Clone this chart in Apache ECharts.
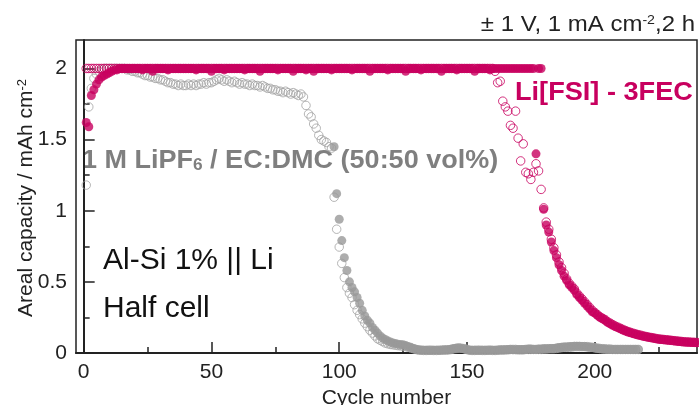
<!DOCTYPE html>
<html>
<head>
<meta charset="utf-8">
<script src="https://cdn.jsdelivr.net/npm/echarts@6/dist/echarts.min.js"></script>
<style>
  html, body { margin: 0; padding: 0; background: #fff; }
  #chart { width: 699px; height: 405px; }
</style>
</head>
<body>
<div id="chart"></div>
<script>
// cycle number of the first value in each list
const magentaStart = 1
const grayHollowStart = 1
const grayFilledStart = 14

// Li[FSI] - 3FEC, filled markers
const magentaFilled = [
  1.62, 1.59, 1.81, 1.85, 1.89, 1.92, 1.94, 1.95, 1.96, 1.97,
  1.98, 1.99, 1.99, 2, 2, 2, 2, 2, 2, 2,
  2, 2, 1.99, 2, 2, 2, 1.98, 2, 2, 2,
  2, 2, 1.99, 2, 2, 2, 2, 2, 2, 2,
  2, 2, 2, 1.99, 2, 2, 2, 2, 2, 1.98,
  2, 2, 2, 2, 1.99, 2, 2, 2, 2, 2,
  2, 2, 1.99, 2, 2, 2, 2, 2, 1.98, 2,
  2, 2, 2, 2, 2, 1.99, 2, 2, 2, 2,
  2, 1.98, 2, 2, 2, 2, 1.99, 2, 2, 1.98,
  2, 2, 2, 2, 2, 2, 1.99, 2, 2, 2,
  2, 2, 2, 2, 1.99, 2, 2, 2, 2, 2,
  2, 1.98, 2, 2, 2, 2, 2, 2, 1.99, 2,
  2, 2, 2, 2, 2, 1.98, 2, 2, 2, 2,
  2, 1.99, 2, 2, 2, 2, 2, 2, 2, 1.98,
  2, 2, 2, 2, 2, 1.99, 2, 2, 2, 2,
  2, 2, 1.98, 2, 2, 2, 2, 2, 1.99, 2,
  2, 2, 2, 2, 2, 2, 2, 2, 2, 2,
  2, 2, 2, 2, 2, 2, 1.4, 2, 2, 1.01,
  0.9, 0.85, 0.78, 0.72, 0.67, 0.62, 0.58, 0.54, 0.51, 0.48,
  0.46, 0.44, 0.41, 0.39, 0.37, 0.35, 0.33, 0.31, 0.29, 0.28,
  0.265, 0.25, 0.24, 0.23, 0.215, 0.205, 0.195, 0.185, 0.178, 0.17,
  0.162, 0.155, 0.148, 0.142, 0.136, 0.131, 0.126, 0.122, 0.118, 0.114,
  0.11, 0.107, 0.104, 0.1, 0.097, 0.095, 0.093, 0.091, 0.089, 0.087,
  0.085, 0.083, 0.081, 0.079, 0.077, 0.076, 0.075, 0.074, 0.073, 0.072
]

// Li[FSI] - 3FEC, open markers
const magentaHollow = [
  2, 2, 2, 2, 2, 2, 2, 2, 2, 2,
  2, 2, 2, 2, 2, 2, 2, 2, 2, 2,
  2, 2, 2, 2, 2, 2, 2, 2, 2, 2,
  2, 2, 2, 2, 2, 2, 2, 2, 2, 2,
  2, 2, 2, 2, 2, 2, 2, 2, 2, 2,
  2, 2, 2, 2, 2, 2, 2, 2, 2, 2,
  2, 2, 2, 2, 2, 2, 2, 2, 2, 2,
  2, 2, 2, 2, 2, 2, 2, 2, 2, 2,
  2, 2, 2, 2, 2, 2, 2, 2, 2, 2,
  2, 2, 2, 2, 2, 2, 2, 2, 2, 2,
  2, 2, 2, 2, 2, 2, 2, 2, 2, 2,
  2, 2, 2, 2, 2, 2, 2, 2, 2, 2,
  2, 2, 2, 2, 2, 2, 2, 2, 2, 2,
  2, 2, 2, 2, 2, 2, 2, 2, 2, 2,
  2, 2, 2, 2, 2, 2, 2, 2, 2, 2,
  2, 2, 2, 2, 2, 2, 2, 2, 2, 2,
  1.98, 1.9, 1.91, 1.77, 1.73, 1.7, 1.6, 1.58, 1.7, 1.51,
  1.35, 1.47, 1.27, 1.26, 1.22, 1.27, 1.33, 1.28, 1.15, 1.02,
  0.92, 0.87, 0.8, 0.74, 0.69, 0.64, 0.6, 0.56, 0.52, 0.49,
  0.47, 0.45, 0.42, 0.4, 0.38, 0.36, 0.34, 0.32, 0.3, 0.285,
  0.27, 0.255, 0.245, 0.235, 0.22, 0.21, 0.2, 0.19, 0.182, 0.174,
  0.166, 0.158, 0.151, 0.145, 0.139, 0.134, 0.129, 0.125, 0.12, 0.116,
  0.112, 0.109, 0.106, 0.102, 0.099, 0.097, 0.095, 0.093, 0.091, 0.089,
  0.087, 0.085, 0.083, 0.081, 0.079, 0.078, 0.077, 0.076, 0.075, 0.074
]

// 1 M LiPF6 / EC:DMC, open markers
const grayHollow = [
  1.18, 1.73, 1.86, 1.93, 1.96, 1.98, 1.99, 2, 2, 2,
  2, 2, 2, 2, 2, 2, 1.99, 1.99, 1.98, 1.98,
  1.97, 1.97, 1.96, 1.95, 1.95, 1.94, 1.94, 1.93, 1.93, 1.92,
  1.92, 1.91, 1.9, 1.9, 1.89, 1.89, 1.88, 1.89, 1.88, 1.88,
  1.89, 1.88, 1.89, 1.88, 1.89, 1.89, 1.9, 1.89, 1.9, 1.9,
  1.91, 1.92, 1.93, 1.92, 1.91, 1.92, 1.91, 1.9, 1.91, 1.9,
  1.89, 1.9, 1.89, 1.89, 1.88, 1.89, 1.88, 1.88, 1.87, 1.88,
  1.87, 1.86, 1.86, 1.85, 1.85, 1.84, 1.84, 1.83, 1.84, 1.83,
  1.82, 1.83, 1.82, 1.81, 1.82, 1.8, 1.74, 1.68, 1.66, 1.61,
  1.58, 1.53, 1.5, 1.49, 1.48, 1.45, 1.44, 1.095, 0.87, 0.745,
  0.63, 0.53, 0.46, 0.42, 0.39, 0.34, 0.3, 0.27, 0.24, 0.21,
  0.185, 0.16, 0.14, 0.12, 0.1, 0.09, 0.08, 0.07, 0.065, 0.06,
  0.058, 0.055, 0.052, 0.05, 0.048, 0.045, 0.04, 0.035, 0.03, 0.025,
  0.02, 0.02, 0.018, 0.018, 0.02, 0.02, 0.018, 0.018, 0.02, 0.02,
  0.02, 0.02, 0.022, 0.025, 0.03, 0.032, 0.035, 0.033, 0.03, 0.025,
  0.02, 0.018, 0.018, 0.02, 0.02, 0.018, 0.018, 0.02, 0.02, 0.018,
  0.018, 0.02, 0.02, 0.02, 0.022, 0.022, 0.025, 0.025, 0.025, 0.022,
  0.022, 0.022, 0.025, 0.025, 0.025, 0.025, 0.025, 0.025, 0.025, 0.028,
  0.028, 0.03, 0.03, 0.03, 0.032, 0.035, 0.038, 0.04, 0.04, 0.04,
  0.042, 0.045, 0.045, 0.045, 0.045, 0.045, 0.045, 0.042, 0.04, 0.038,
  0.035, 0.032, 0.03, 0.028, 0.028, 0.028, 0.025, 0.025, 0.025, 0.025,
  0.025, 0.025, 0.025, 0.025, 0.025, 0.025, 0.025
]

// 1 M LiPF6 / EC:DMC, filled markers
const grayFilled = [
  2, 2, 2, 2, 2, 2, 2,
  2, 2, 2, 2, 2, 2, 2, 2, 2, 2,
  2, 2, 2, 2, 2, 2, 2, 2, 2, 2,
  2, 2, 2, 2, 2, 2, 2, 2, 2, 2,
  2, 2, 2, 2, 2, 2, 2, 2, 2, 2,
  2, 2, 2, 2, 2, 2, 2, 2, 2, 2,
  2, 2, 2, 2, 2, 2, 2, 2, 2, 2,
  2, 2, 2, 2, 2, 2, 2, 2, 2, 2,
  2, 2, 2, 2, 2, 2, 2, 1.45, 1.12, 0.94,
  0.79, 0.67, 0.58, 0.5, 0.46, 0.43, 0.39, 0.35, 0.3, 0.26,
  0.23, 0.21, 0.18, 0.16, 0.14, 0.12, 0.105, 0.095, 0.085, 0.077,
  0.07, 0.066, 0.062, 0.06, 0.058, 0.052, 0.045, 0.04, 0.032, 0.026,
  0.022, 0.02, 0.02, 0.02, 0.018, 0.018, 0.02, 0.02, 0.018, 0.02,
  0.022, 0.022, 0.025, 0.028, 0.032, 0.035, 0.035, 0.032, 0.028, 0.022,
  0.02, 0.02, 0.02, 0.018, 0.018, 0.02, 0.02, 0.018, 0.02, 0.02,
  0.02, 0.02, 0.022, 0.022, 0.022, 0.025, 0.025, 0.022, 0.022, 0.025,
  0.025, 0.025, 0.025, 0.028, 0.028, 0.025, 0.025, 0.028, 0.028, 0.03,
  0.03, 0.03, 0.032, 0.032, 0.035, 0.038, 0.04, 0.042, 0.042, 0.045,
  0.045, 0.048, 0.048, 0.048, 0.045, 0.045, 0.042, 0.04, 0.038, 0.035,
  0.032, 0.03, 0.028, 0.028, 0.025, 0.025, 0.025, 0.025, 0.025, 0.025,
  0.025, 0.025, 0.025, 0.025, 0.025, 0.025, 0.025
]

const xMajorTicks = [0, 50, 100, 150, 200]
const xMinorTicks = [25, 75, 125, 175, 225]
const yMajorTicks = [0, 0.5, 1, 1.5, 2]
const yMinorTicks = [0.25, 0.75, 1.25, 1.75]

const MAGENTA = '#c8005f'
const GRAY = '#999999'
const FONT = 'Liberation Sans, Arial, sans-serif'

function toPoints (values, start) {
  return values.map((v, i) => [start + i, v])
}

const chart = echarts.init(document.getElementById('chart'), null, { renderer: 'canvas' })

const baseX = {
  type: 'value',
  min: -3,
  max: 240,
  splitLine: { show: false }
}
const baseY = {
  type: 'value',
  min: 0,
  max: 2.2,
  splitLine: { show: false }
}

const option = {
  animation: false,
  backgroundColor: '#fff',
  grid: {
    left: 76,
    right: 2,
    top: 40,
    bottom: 52,
    containLabel: false,
    outerBoundsMode: 'none',
    show: true,
    borderColor: '#222',
    borderWidth: 1.5,
    backgroundColor: 'transparent'
  },
  xAxis: [
    Object.assign({}, baseX, {
      position: 'bottom',
      name: 'Cycle number',
      nameLocation: 'middle',
      nameGap: 25,
      nameTextStyle: { fontFamily: FONT, fontSize: 21, color: '#222' },
      axisLine: { lineStyle: { color: '#222', width: 2 } },
      axisTick: { inside: true, length: 11, customValues: xMajorTicks, lineStyle: { color: '#222', width: 1.5 } },
      axisLabel: { customValues: xMajorTicks, margin: 9, fontFamily: FONT, fontSize: 21, color: '#222' }
    }),
    Object.assign({}, baseX, {
      position: 'bottom',
      axisLine: { show: false },
      axisTick: { inside: true, length: 6, customValues: xMinorTicks, lineStyle: { color: '#222', width: 1.5 } },
      axisLabel: { show: false }
    })
  ],
  yAxis: [
    Object.assign({}, baseY, {
      position: 'left',
      axisLine: { show: true, lineStyle: { color: '#222', width: 2 } },
      axisTick: { inside: true, length: 11, customValues: yMajorTicks, lineStyle: { color: '#222', width: 1.5 } },
      axisLabel: { customValues: yMajorTicks, margin: 9, fontFamily: FONT, fontSize: 21, color: '#222' }
    }),
    Object.assign({}, baseY, {
      position: 'left',
      axisLine: { show: false },
      axisTick: { inside: true, length: 6, customValues: yMinorTicks, lineStyle: { color: '#222', width: 1.5 } },
      axisLabel: { show: false }
    })
  ],
  series: [
    {
      name: 'LiPF6 open',
      type: 'scatter',
      symbolSize: 8.5,
      itemStyle: { color: 'rgba(255,255,255,0)', borderColor: '#a3a3a3', borderWidth: 1 },
      emphasis: { disabled: true },
      data: toPoints(grayHollow, grayHollowStart)
    },
    {
      name: 'LiPF6 filled',
      type: 'scatter',
      symbolSize: 9,
      itemStyle: { color: GRAY },
      emphasis: { disabled: true },
      data: toPoints(grayFilled, grayFilledStart)
    },
    {
      name: 'LiFSI open',
      type: 'scatter',
      symbolSize: 8.5,
      itemStyle: { color: 'rgba(255,255,255,0)', borderColor: MAGENTA, borderWidth: 1 },
      emphasis: { disabled: true },
      data: toPoints(magentaHollow, magentaStart)
    },
    {
      name: 'LiFSI filled',
      type: 'scatter',
      symbolSize: 9,
      itemStyle: { color: MAGENTA },
      emphasis: { disabled: true },
      data: toPoints(magentaFilled, magentaStart)
    }
  ],
  graphic: [
    {
      type: 'text',
      x: 26,
      y: 198,
      rotation: Math.PI / 2,
      style: {
        text: '{a|Areal capacity / mAh cm}{s|-2}',
        align: 'center',
        verticalAlign: 'middle',
        rich: {
          a: { fontFamily: FONT, fontSize: 21, fill: '#222' },
          s: { fontFamily: FONT, fontSize: 13, fill: '#222', verticalAlign: 'top', lineHeight: 21 }
        }
      }
    },
    {
      type: 'text',
      x: 695,
      y: 25,
      scaleX: 1.09,
      style: {
        text: '{a|\u00B1 1 V, 1 mA cm}{s|-2}{a|,2 h}',
        align: 'right',
        verticalAlign: 'middle',
        rich: {
          a: { fontFamily: FONT, fontSize: 22, fill: '#222' },
          s: { fontFamily: FONT, fontSize: 13, fill: '#222', verticalAlign: 'top', lineHeight: 22 }
        }
      }
    },
    {
      type: 'text',
      x: 515,
      y: 93,
      scaleX: 1.085,
      style: {
        text: 'Li[FSI] - 3FEC',
        fontFamily: FONT,
        fontWeight: 'bold',
        fontSize: 25,
        fill: MAGENTA,
        verticalAlign: 'middle'
      }
    },
    {
      type: 'text',
      x: 82,
      y: 161,
      scaleX: 1.08,
      style: {
        text: '{a|1 M LiPF}{b|6}{a| / EC:DMC (50:50 vol%)}',
        verticalAlign: 'middle',
        rich: {
          a: { fontFamily: FONT, fontWeight: 'bold', fontSize: 25, fill: '#7f7f7f' },
          b: { fontFamily: FONT, fontWeight: 'bold', fontSize: 16, fill: '#7f7f7f', verticalAlign: 'bottom', lineHeight: 25 }
        }
      }
    },
    {
      type: 'text',
      x: 103,
      y: 261,
      style: { text: 'Al-Si 1% || Li', fontFamily: FONT, fontSize: 30, fill: '#111', verticalAlign: 'middle' }
    },
    {
      type: 'text',
      x: 103,
      y: 309,
      style: { text: 'Half cell', fontFamily: FONT, fontSize: 30, fill: '#111', verticalAlign: 'middle' }
    }
  ]
}

chart.setOption(option)
</script>
</body>
</html>
